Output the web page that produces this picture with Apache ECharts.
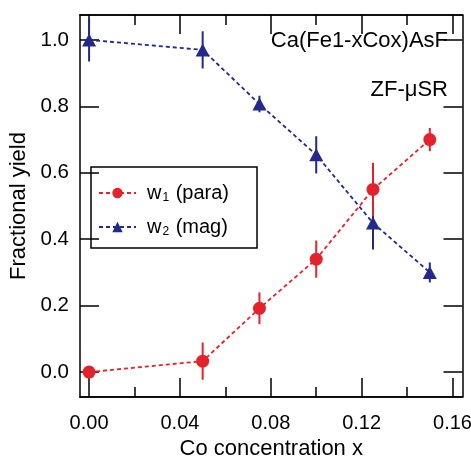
<!DOCTYPE html>
<html>
<head>
<meta charset="utf-8">
<script src="https://cdn.jsdelivr.net/npm/echarts@6/dist/echarts.min.js"></script>
<style>
html,body{margin:0;padding:0;background:#fff;}
#chart{width:471px;height:457px;}
</style>
</head>
<body>
<div id="chart"></div>
<script>
// ---- data ----
var xValues = [0, 0.05, 0.075, 0.1, 0.125, 0.15];
var w1 = [0.0, 0.033, 0.192, 0.34, 0.55, 0.70];
var w1Err = [0, 0.056, 0.048, 0.056, 0.08, 0.035];
var w2 = [1.0, 0.97, 0.807, 0.654, 0.449, 0.30];
var w2Err = [0.065, 0.056, 0.025, 0.056, 0.08, 0.03];
var xMajorTicks = [0, 0.04, 0.08, 0.12, 0.16];
var xMinorTicks = [0.02, 0.06, 0.10, 0.14];
var yTicks = [0, 0.2, 0.4, 0.6, 0.8, 1.0];

var RED = '#e4222b';
var BLUE = '#22288c';
var FONT = '"Liberation Sans", Arial, Helvetica, sans-serif';

var XMIN = -0.004, XMAX = 0.1644, YMIN = -0.075, YMAX = 1.075;

function pts(ys) { return xValues.map(function (x, i) { return [x, ys[i]]; }); }
function errPts(ys, es) { return xValues.map(function (x, i) { return [x, ys[i], es[i]]; }); }

function errRender(color) {
  return function (params, api) {
    var x = api.value(0), y = api.value(1), e = api.value(2);
    if (!e) return null;
    var p1 = api.coord([x, y - e]);
    var p2 = api.coord([x, y + e]);
    return {
      type: 'line',
      shape: { x1: p1[0], y1: p1[1], x2: p2[0], y2: p2[1] },
      style: { stroke: color, lineWidth: 2 }
    };
  };
}

function xAxisDef(pos, ticks, len, labels) {
  var ax = {
    type: 'value', position: pos, min: XMIN, max: XMAX,
    axisLine: { show: true, onZero: false, lineStyle: { color: '#000', width: 1.5 } },
    axisTick: { show: true, inside: true, length: len, customValues: ticks, lineStyle: { color: '#000', width: 1.5 } },
    axisLabel: { show: false },
    splitLine: { show: false }
  };
  if (labels) {
    ax.axisLabel = { show: true, customValues: ticks, margin: 16, color: '#000', fontSize: 20, fontFamily: FONT,
      formatter: function (v) { return v.toFixed(2); } };
    ax.name = 'Co concentration x';
    ax.nameLocation = 'middle';
    ax.nameGap = 41;
    ax.nameTextStyle = { color: '#000', fontSize: 22, fontFamily: FONT };
  }
  return ax;
}
function yAxisDef(pos, labels) {
  var ax = {
    type: 'value', position: pos, min: YMIN, max: YMAX,
    axisLine: { show: true, onZero: false, lineStyle: { color: '#000', width: 1.5 } },
    axisTick: { show: true, inside: true, length: 19, customValues: yTicks, lineStyle: { color: '#000', width: 1.5 } },
    axisLabel: { show: false },
    splitLine: { show: false }
  };
  if (labels) {
    ax.axisLabel = { show: true, customValues: yTicks, margin: 11, color: '#000', fontSize: 20.5, fontFamily: FONT,
      formatter: function (v) { return v.toFixed(1); } };
    ax.name = 'Fractional yield';
    ax.nameLocation = 'middle';
    ax.nameGap = 46;
    ax.nameTextStyle = { color: '#000', fontSize: 22, fontFamily: FONT };
  }
  return ax;
}

var chart = echarts.init(document.getElementById('chart'), null, { renderer: 'canvas' });
var option = {
  animation: false,
  backgroundColor: '#fff',
  grid: { left: 80, right: 8.5, top: 15, bottom: 60, containLabel: false, outerBoundsMode: 'none' },
  xAxis: [
    xAxisDef('bottom', xMajorTicks, 19, true),
    xAxisDef('bottom', xMinorTicks, 10, false),
    xAxisDef('top', xMajorTicks, 19, false),
    xAxisDef('top', xMinorTicks, 10, false)
  ],
  yAxis: [yAxisDef('left', true), yAxisDef('right', false)],
  legend: {
    orient: 'vertical', left: 91, top: 167,
    width: 166,
    padding: [13, 28, 10, 7],
    itemGap: 10,
    itemWidth: 37, itemHeight: 13,
    borderColor: '#000', borderWidth: 1.5,
    data: ['w1', 'w2'],
    formatter: function (name) {
      return name === 'w1' ? '{a|w}{s|1}{a| (para)}' : '{a|w}{s|2}{a| (mag)}';
    },
    textStyle: {
      color: '#000', fontFamily: FONT, fontSize: 20, padding: [0, 0, 0, 6],
      rich: {
        a: { fontSize: 20, fontFamily: FONT, color: '#000', lineHeight: 22 },
        s: { fontSize: 12, fontFamily: FONT, color: '#000', lineHeight: 22, verticalAlign: 'bottom', padding: [12, 1, 0, 1] }
      }
    }
  },
  graphic: [
    { type: 'text', right: 23, top: 30, style: { text: 'Ca(Fe1-xCox)AsF', fill: '#000', font: '22px ' + FONT } },
    { type: 'text', right: 23, top: 79, style: { text: 'ZF-μSR', fill: '#000', font: '22px ' + FONT } }
  ],
  series: [
    {
      name: 'w2err', type: 'custom', xAxisIndex: 0, yAxisIndex: 0,
      renderItem: errRender(BLUE), data: errPts(w2, w2Err), z: 2, silent: true
    },
    {
      name: 'w2', type: 'line', xAxisIndex: 0, yAxisIndex: 0,
      data: pts(w2), symbol: 'triangle', symbolSize: [14, 13],
      itemStyle: { color: BLUE }, lineStyle: { color: BLUE, width: 1.8, type: [4, 3] }, z: 3
    },
    {
      name: 'w1err', type: 'custom', xAxisIndex: 0, yAxisIndex: 0,
      renderItem: errRender(RED), data: errPts(w1, w1Err), z: 4, silent: true
    },
    {
      name: 'w1', type: 'line', xAxisIndex: 0, yAxisIndex: 0,
      data: pts(w1), symbol: 'circle', symbolSize: 13,
      itemStyle: { color: RED }, lineStyle: { color: RED, width: 1.8, type: [4, 3] }, z: 5
    }
  ]
};
chart.setOption(option);
</script>
</body>
</html>
